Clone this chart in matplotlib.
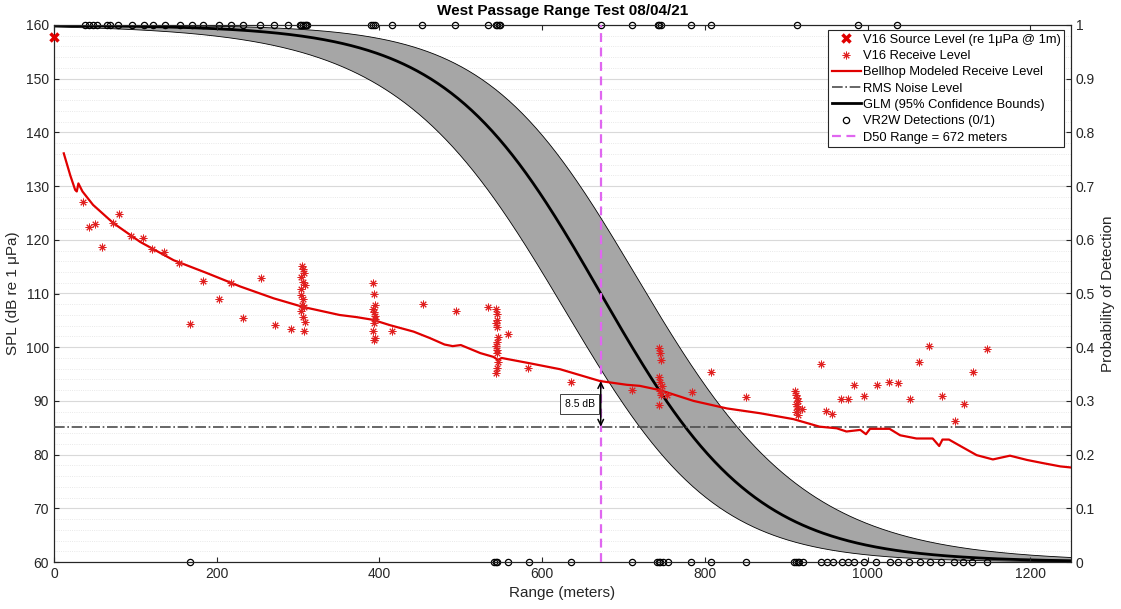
import numpy as np
import matplotlib
matplotlib.use("Agg")
import matplotlib.pyplot as plt
from matplotlib.ticker import MultipleLocator, FuncFormatter

plt.rcParams['font.family'] = ['Liberation Sans', 'DejaVu Sans']

# ---------------- data ----------------
source_range = [0]
source_level = [157.7]

recv_range = [36, 43, 50, 59, 72, 80, 95, 110, 121, 135, 154, 167, 183, 203, 217, 232, 254, 272, 291,
              305, 306, 307, 304, 306, 308, 303, 304, 306, 305, 307, 304, 306, 308, 307,
              392, 393, 394, 392, 393, 395, 394, 393, 392, 394, 393,
              415, 453, 494, 533,
              543, 545, 544, 543, 545, 546, 544, 543, 545, 544, 546, 545, 543,
              558, 583, 635, 711,
              744, 745, 746, 744, 745, 747, 745, 746, 744,
              754, 784, 807, 851,
              911, 912, 913, 914, 912, 913, 915, 912, 914, 919,
              943, 949, 956, 967, 976, 983, 996, 1011, 1026, 1037, 1052, 1063, 1076, 1091, 1107, 1118, 1129, 1147]
recv_level = [127.1, 122.3, 122.9, 118.7, 123.1, 124.8, 120.7, 120.3, 118.3, 117.7, 115.6, 104.4, 112.3, 108.9, 112.0, 105.4, 112.9, 104.1, 103.3,
              115.1, 114.5, 113.8, 113.1, 112.2, 111.6, 110.8, 109.7, 109.0, 107.9, 107.4, 106.8, 105.7, 104.7, 103.1,
              112.0, 110.0, 107.9, 107.2, 106.5, 105.8, 105.2, 104.5, 103.0, 101.7, 101.3,
              103.0, 108.0, 106.7, 107.5,
              107.1, 106.2, 105.0, 104.5, 103.8, 101.9, 101.0, 100.2, 99.5, 98.9, 97.2, 96.2, 95.2,
              102.4, 96.2, 93.5, 92.0,
              99.8, 99.0, 97.6, 94.5, 93.6, 92.8, 91.8, 91.1, 89.2,
              91.1, 91.6, 95.3, 90.8,
              91.8, 91.1, 90.5, 90.0, 89.5, 89.0, 88.5, 88.0, 87.4, 88.5,
              96.8, 88.1, 87.6, 90.3, 90.3, 93.0, 90.9, 93.0, 93.5, 93.3, 90.4, 97.3, 100.2, 91.0, 86.3, 89.4, 95.3, 99.7]

bellhop_range = [12, 20, 26, 28, 30, 35, 48, 73, 106, 147, 188, 229, 270, 306, 351, 372, 392, 413, 442, 462,
                 480, 490, 500, 524, 540, 546, 550, 585, 622, 671, 704, 720, 745, 786, 827, 868, 909, 941,
                 962, 974, 991, 998, 1003, 1027, 1040, 1060, 1080, 1088, 1092, 1100, 1114, 1134, 1154, 1175,
                 1196, 1216, 1237, 1250]
bellhop_level = [136.1, 132.0, 129.3, 129.0, 130.5, 129.0, 126.5, 123.1, 119.6, 116.2, 113.8, 111.3, 109.1, 107.5,
                 106.0, 105.6, 105.1, 104.1, 102.9, 101.7, 100.5, 100.2, 100.4, 98.9, 98.2, 97.6, 98.0, 97.0,
                 95.9, 93.7, 93.0, 92.8, 92.0, 90.0, 88.6, 87.7, 86.6, 85.2, 84.9, 84.3, 84.6, 83.8, 84.8,
                 84.8, 83.6, 83.0, 83.0, 81.6, 82.8, 82.8, 81.6, 79.9, 79.1, 79.8, 79.0, 78.4, 77.8, 77.6]

noise_level = 85.2

det1_range = [38, 43, 48, 53, 65, 69, 79, 96, 111, 122, 137, 155, 170, 183, 203, 217, 232, 253, 270, 287,
              302, 304, 306, 308, 310, 311, 390, 392, 394, 415, 452, 493, 533, 543, 545, 547, 548,
              672, 711, 742, 744, 746, 783, 808, 913, 988, 1036]
det0_range = [167, 541, 543, 545, 558, 584, 635, 711, 741, 743, 745, 748, 755, 783, 808, 851,
              910, 912, 914, 916, 920, 943, 950, 958, 969, 976, 983, 996, 1010, 1027, 1037, 1051,
              1064, 1077, 1090, 1106, 1117, 1128, 1147]

d50 = 672
glm_slope = 0.0105
ci_center = 0.58
ci_growth = 0.002

# ---------------- figure ----------------
fig = plt.figure(figsize=(11.21, 6.09), dpi=100)
ax = fig.add_axes([54/1121, 1-562/609, (1071-54)/1121, (562-25)/609])
ax2 = ax.twinx()
ax.set_zorder(2)
ax2.set_zorder(1)
ax.patch.set_visible(False)
ax2.patch.set_visible(True)
ax2.patch.set_facecolor('white')

xg = np.linspace(0, 1250, 600)
lin = glm_slope * (d50 - xg)
dlt = np.sqrt(ci_center**2 + (ci_growth * (xg - d50))**2)
p_mid = 1 / (1 + np.exp(-lin))
p_lo = 1 / (1 + np.exp(-(lin - dlt)))
p_hi = 1 / (1 + np.exp(-(lin + dlt)))

ax2.fill_between(xg, p_lo, p_hi, facecolor='#a6a6a6', edgecolor='none', zorder=2)
ax2.plot(xg, p_lo, color='black', lw=0.6, zorder=3)
ax2.plot(xg, p_hi, color='black', lw=0.6, zorder=3)
h_glm, = ax2.plot(xg, p_mid, color='black', lw=2, zorder=4, label='GLM (95% Confidence Bounds)')
h_det, = ax2.plot(det1_range, np.ones(len(det1_range)), 'o', mfc='none', mec='black', ms=4.5, mew=0.9,
                  clip_on=False, zorder=5, label='VR2W Detections (0/1)')
ax2.plot(det0_range, np.zeros(len(det0_range)), 'o', mfc='none', mec='black', ms=4.5, mew=0.9,
         clip_on=False, zorder=5)
ax2.set_ylim(0, 1)
ax2.yaxis.set_major_locator(MultipleLocator(0.1))
ax2.yaxis.set_minor_locator(MultipleLocator(0.02))
ax2.xaxis.set_minor_locator(MultipleLocator(50))
ax2.yaxis.set_major_formatter(FuncFormatter(lambda v, _: f'{round(v, 2):g}'))
ax2.grid(which='major', color='#d9d9d9', lw=0.8)
ax2.grid(which='minor', color='#e2e2e2', lw=0.6, ls=':')
ax2.set_axisbelow(True)
ax2.set_ylabel('Probability of Detection', fontsize=11, color='#262626')

h_src, = ax.plot(source_range, source_level, 'x', color='#e00000', ms=6, mew=2.5, clip_on=False,
                 label='V16 Source Level (re 1μPa @ 1m)', zorder=6)
h_rcv, = ax.plot(recv_range, recv_level, ls='none', marker=(8, 2, 0), color='#e02020', ms=5.5, mew=0.7,
                 label='V16 Receive Level', zorder=5)
h_bh, = ax.plot(bellhop_range, bellhop_level, color='#e00000', lw=1.6, label='Bellhop Modeled Receive Level', zorder=4)
h_rms = ax.axhline(noise_level, color='#4d4d4d', lw=1.2, ls='-.', label='RMS Noise Level', zorder=3)
h_d50 = ax.axvline(d50, color='#e066f0', lw=1.6, ls=(0, (4, 2.5)), label='D50 Range = 672 meters', zorder=3)

bh_at_d50 = np.interp(d50, bellhop_range, bellhop_level)
ax.annotate('', xy=(d50, bh_at_d50), xytext=(d50, noise_level),
            arrowprops=dict(arrowstyle='<->', color='black', lw=1.1, shrinkA=0, shrinkB=0), zorder=7)
ax.text(d50 - 26, (bh_at_d50 + noise_level) / 2, f'{bh_at_d50 - noise_level:.1f} dB', fontsize=7.5,
        ha='center', va='center', zorder=8,
        bbox=dict(boxstyle='square,pad=0.45', fc='white', ec='#404040', lw=0.7))

ax.set_xlim(0, 1250)
ax.set_ylim(60, 160)
ax2.set_xlim(0, 1250)
ax.yaxis.set_major_locator(MultipleLocator(10))
ax.xaxis.set_major_locator(MultipleLocator(200))
ax.set_xlabel('Range (meters)', fontsize=11, color='#262626')
ax.set_ylabel('SPL (dB re 1 μPa)', fontsize=11, color='#262626')
ax.set_title('West Passage Range Test 08/04/21', fontsize=11, fontweight='bold', pad=7)

for a in (ax, ax2):
    a.tick_params(which='both', direction='in', labelsize=10, labelcolor='#262626', color='#262626')
    a.tick_params(which='minor', length=0)
    for s in a.spines.values():
        s.set_color('#262626')
        s.set_linewidth(0.8)
ax.tick_params(axis='x', top=True)
ax2.tick_params(axis='x', top=True)

leg = ax.legend(handles=[h_src, h_rcv, h_bh, h_rms, h_glm, h_det, h_d50], loc='upper right',
                fontsize=9.3, frameon=True, fancybox=False, edgecolor='#262626', framealpha=1,
                borderpad=0.3, labelspacing=0.33, handlelength=2.2, handletextpad=0.15,
                borderaxespad=0, bbox_to_anchor=(0.9935, 0.991))
leg.get_frame().set_linewidth(0.8)
leg.set_zorder(10)

fig.savefig('out.png', dpi=100)
